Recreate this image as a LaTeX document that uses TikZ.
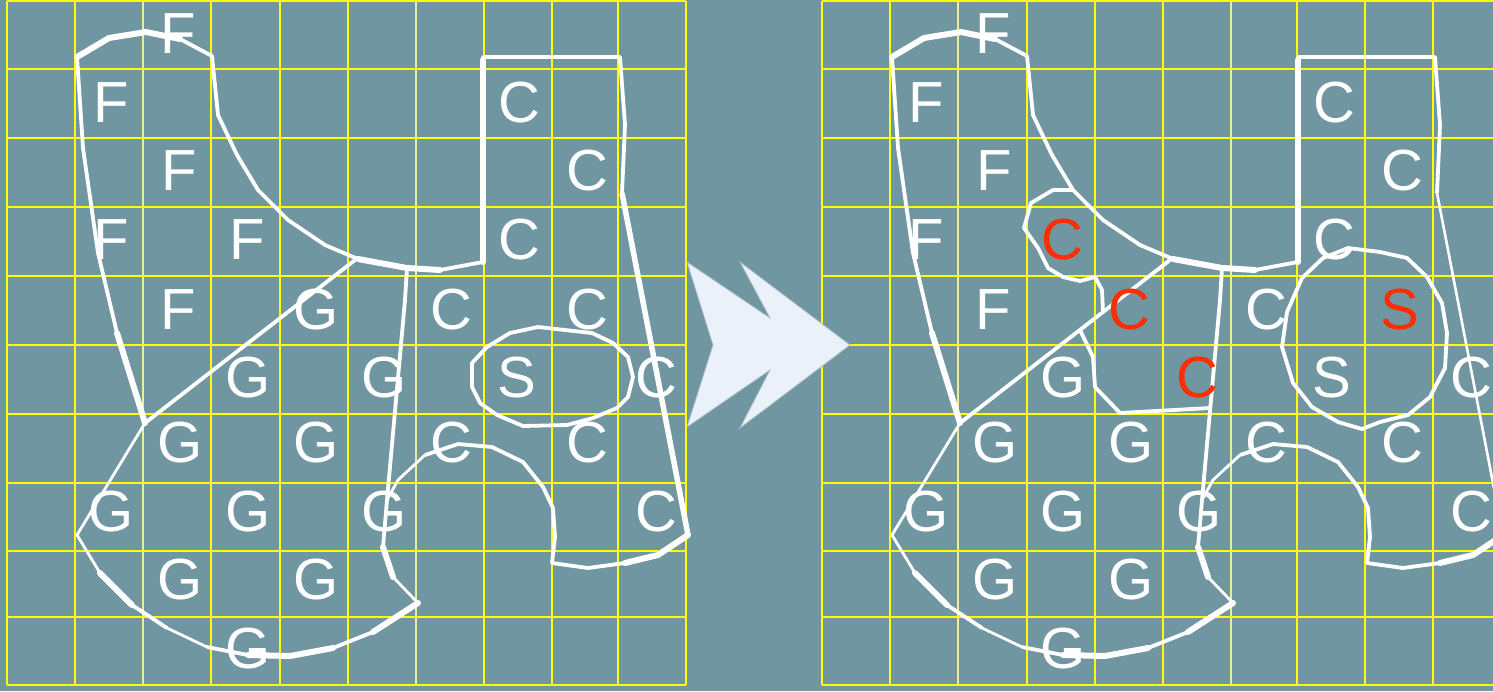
\documentclass[tikz,border=0pt]{standalone}
\usepackage{fontspec}
\setmainfont{Liberation Sans}
\newcommand\LF{\fontsize{58}{60}\selectfont}
\definecolor{bg}{RGB}{112,150,161}
\definecolor{gridy}{RGB}{255,255,0}
\definecolor{gridp}{RGB}{236,236,160}
\definecolor{redl}{RGB}{255,45,0}
\definecolor{arrowf}{RGB}{234,241,249}
\definecolor{arrowe}{RGB}{170,190,200}
\tikzset{
 gl/.style={gridy, line width=1.6pt},
 glp/.style={gridp, line width=1.2pt},
 ol/.style={white, line width=3.8pt, line join=round},
 olk/.style={white, line width=6pt, line join=round, line cap=round},
 oln/.style={white, line width=2.8pt, line join=round},
 lt/.style={inner sep=0pt, text=white, font=\LF},
 rl/.style={inner sep=0pt, text=redl, font=\LF},
}
% outlines shared by both panels (left panel coordinates)
\newcommand\commonshapes[1]{%
 % F outline continuing into the C region
 \draw[ol] (145,423) -- (117,333) -- (98,253) -- (83,148) -- (77,57) -- (109,38) -- (146,32) -- (180,39) -- (212,56)
   -- (218,115) -- (237,155) -- (258,190) -- (288,220) -- (325,245) -- (358,259) -- (407,268) -- (440,270) -- (483,262)
   -- (483,57) -- (620,57) -- (625,125) -- (622,193);
 \draw[white, line width=#1] (622,193) -- (688,535);
 \draw[ol] (688,535) -- (658,555) -- (625,563) -- (588,568) -- (552,563) -- (555,537) -- (553,508) -- (543,487)
   -- (523,462) -- (492,447) -- (458,444) -- (425,455);
 \draw[oln] (425,455) -- (398,480) -- (387,500);
 % G region
 \draw[ol] (145,423) -- (355,260);
 \draw[ol] (407,268) -- (405,300) -- (387,500) -- (383,547) -- (393,577);
 \draw[oln] (393,577) -- (418,603);
 \draw[ol] (418,603) -- (373,632) -- (333,648) -- (290,656) -- (248,655) -- (207,647);
 \draw[oln] (207,647) -- (167,628);
 \draw[ol] (167,628) -- (132,605) -- (100,573);
 \draw[oln] (100,573) -- (77,535) -- (145,423);
 % thicker pen strokes
 \draw[olk] (77,57) -- (109,38) -- (146,32) -- (180,39);
 \draw[olk] (358,259) -- (407,268) -- (440,270);
 \draw[olk] (483,262) -- (483,60);
 \draw[olk] (117,333) -- (145,423);
 \draw[olk] (383,547) -- (393,577);
 \draw[olk] (418,603) -- (373,632);
 \draw[olk] (333,648) -- (290,656) -- (248,655);
 \draw[olk] (132,605) -- (100,573);
 \draw[olk] (688,535) -- (658,555) -- (625,563);
}
\newcommand\commonletters[1]{%
 \foreach \x/\y/\t [count=\i] in {178/34/F, 111/103/F, 179/171/F, 111/240/F, 178/310/F,
   248/378/G, 180/443/G, 316/443/G, 111/512/G, 248/512/G, 384/512/G, 180/580/G, 316/580/G, 248/649/G,
   519/103/C, 587/171/C, 519/240/C, 451/310/C, 656/378/C, 451/443/C, 587/443/C, 656/512/C, 517/378/S}
   \node[lt] (#1\i) at (\x,\y) {\t};
}
\begin{document}
\begin{tikzpicture}[x=1pt, y=-1pt]
\fill[bg] (0,0) rectangle (1493,691);
\useasboundingbox (0,0) rectangle (1493,691);
% left grid
\foreach \x in {7,75,211,280,348,484,552,618,686} \draw[gl] (\x,1) -- (\x,685);
\foreach \x in {143,416} \draw[glp] (\x,1) -- (\x,685);
\foreach \y in {1,69,138,207,276,345,414,483,551,617,685} \draw[gl] (7,\y) -- (686,\y);
% right grid
\foreach \x in {822,890,1027,1095,1163,1297,1365,1433} \draw[gl] (\x,1) -- (\x,685);
\foreach \x in {958,1231} \draw[glp] (\x,1) -- (\x,685);
\foreach \y in {1,69,138,207,276,345,414,483,551,617,685} \draw[gl] (822,\y) -- (1493,\y);

% ---------- left panel ----------
\commonshapes{5.5pt}
\draw[ol] (538,327) -- (565,330) -- (592,333) -- (613,343) -- (628,357) -- (633,377) -- (628,397) -- (617,408)
  -- (593,418) -- (567,425) -- (523,426) -- (497,415) -- (480,403) -- (472,387) -- (472,363) -- (487,347) -- (510,333) -- cycle;
\commonletters{l}
\node[lt] (lF6) at (247,240) {F};
\node[lt] (lG1) at (316,310) {G};
\node[lt] (lG2) at (384,378) {G};
\node[lt] (lC1) at (587,310) {C};

% ---------- arrow ----------
\filldraw[fill=arrowf, draw=arrowe, line width=0.8pt, line join=miter]
  (687,262) -- (770,318) -- (740,262) -- (850,345) -- (740,428) -- (770,370) -- (687,427) -- (713,345) -- cycle;

% ---------- right panel ----------
\begin{scope}[xshift=815pt]
\commonshapes{2.6pt}
\commonletters{r}
\end{scope}
% circle around S
\draw[ol] (1323,258) -- (1348,248) -- (1380,252) -- (1407,258) -- (1427,277) -- (1442,303) -- (1447,333) -- (1445,368)
  -- (1430,397) -- (1408,415) -- (1380,422) -- (1362,429) -- (1338,422) -- (1312,407) -- (1293,383) -- (1282,347)
  -- (1287,312) -- (1302,278) -- cycle;
% new boundaries
\draw[ol] (1073,190) -- (1053,190) -- (1031,203) -- (1024,228) -- (1038,248) -- (1048,268) -- (1063,277) -- (1080,281)
  -- (1095,277) -- (1102,290) -- (1103,312);
\draw[ol] (1080,330) -- (1093,357) -- (1095,387) -- (1120,413) -- (1210,408);
\node[rl] (rC1) at (1062,240) {C};
\node[rl] (rC2) at (1129,310) {C};
\node[rl] (rC3) at (1197,378) {C};
\node[rl] (rS1) at (1400,310) {S};
\end{tikzpicture}
\end{document}
